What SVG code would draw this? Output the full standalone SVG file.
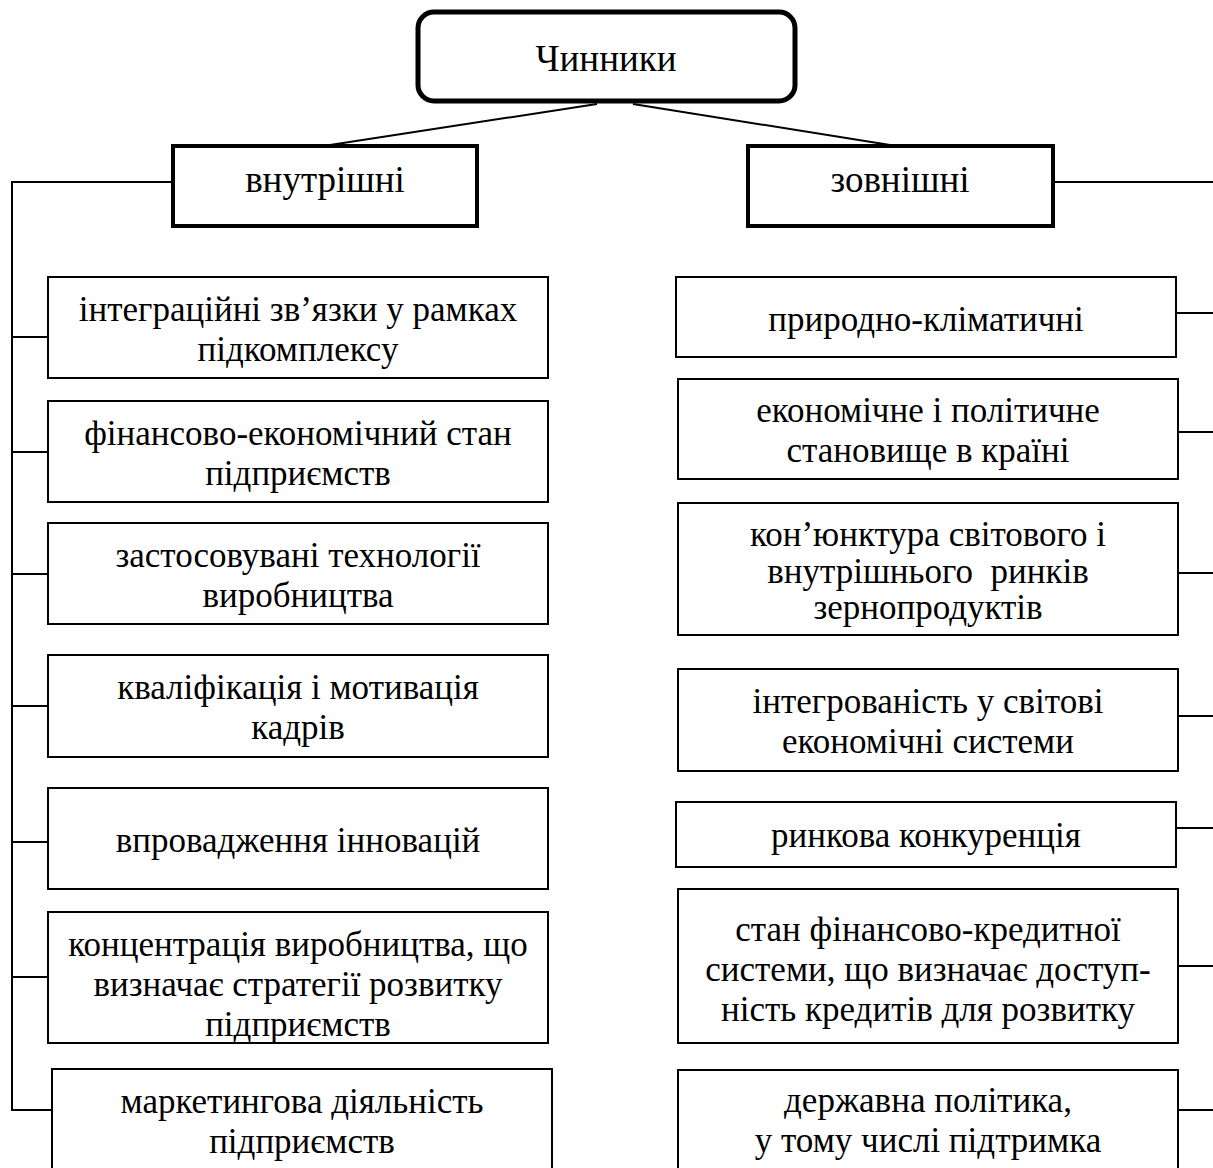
<svg xmlns="http://www.w3.org/2000/svg" width="1213" height="1168" viewBox="0 0 1213 1168">
<style>
text{font-family:"Liberation Serif","Times New Roman",serif;font-size:35px;fill:#000;text-anchor:middle}
text.t{font-size:37px}
text.p{white-space:pre}
.b{fill:#fff;stroke:#000;stroke-width:2}
.h{fill:#fff;stroke:#000;stroke-width:4}
.c{stroke:#000;stroke-width:2;fill:none}
</style>
<rect width="1213" height="1168" fill="#fff"/>
<g id="connectors">
<line class="c" x1="597" y1="104" x2="330" y2="145"/>
<line class="c" x1="633" y1="104" x2="890" y2="145"/>
<polyline class="c" points="172,182 12,182 12,1110 52,1110"/>
<line class="c" x1="12" y1="337" x2="48" y2="337"/>
<line class="c" x1="12" y1="452" x2="48" y2="452"/>
<line class="c" x1="12" y1="574" x2="48" y2="574"/>
<line class="c" x1="12" y1="706" x2="48" y2="706"/>
<line class="c" x1="12" y1="842" x2="48" y2="842"/>
<line class="c" x1="12" y1="977" x2="48" y2="977"/>
<line class="c" x1="1054" y1="182" x2="1213" y2="182"/>
<line class="c" x1="1176" y1="313" x2="1213" y2="313"/>
<line class="c" x1="1178" y1="432" x2="1213" y2="432"/>
<line class="c" x1="1178" y1="573" x2="1213" y2="573"/>
<line class="c" x1="1178" y1="716" x2="1213" y2="716"/>
<line class="c" x1="1176" y1="828" x2="1213" y2="828"/>
<line class="c" x1="1178" y1="966" x2="1213" y2="966"/>
<line class="c" x1="1178" y1="1110" x2="1213" y2="1110"/>
</g>
<g id="root"><rect x="418" y="12" width="377" height="89" rx="16" fill="#fff" stroke="#000" stroke-width="5"/><text class="t" x="606" y="71">Чинники</text></g>
<g id="internal"><rect class="h" x="173" y="146" width="304" height="80"/><text class="t" x="325" y="192">внутрішні</text></g>
<g id="external"><rect class="h" x="748" y="146" width="305" height="80"/><text class="t" x="900" y="192">зовнішні</text></g>
<g id="i1"><rect class="b" x="48" y="277" width="500" height="101"/><text x="298" y="321">інтеграційні зв’язки у рамках</text><text x="298" y="361">підкомплексу</text></g>
<g id="i2"><rect class="b" x="48" y="401" width="500" height="101"/><text x="298" y="445">фінансово-економічний стан</text><text x="298" y="485">підприємств</text></g>
<g id="i3"><rect class="b" x="48" y="523" width="500" height="101"/><text x="298" y="567">застосовувані технології</text><text x="298" y="607">виробництва</text></g>
<g id="i4"><rect class="b" x="48" y="655" width="500" height="102"/><text x="298" y="699">кваліфікація і мотивація</text><text x="298" y="739">кадрів</text></g>
<g id="i5"><rect class="b" x="48" y="788" width="500" height="101"/><text x="298" y="852">впровадження інновацій</text></g>
<g id="i6"><rect class="b" x="48" y="912" width="500" height="131"/><text x="298" y="956">концентрація виробництва, що</text><text x="298" y="996">визначає стратегії розвитку</text><text x="298" y="1036">підприємств</text></g>
<g id="i7"><rect class="b" x="52" y="1069" width="500" height="110"/><text x="302" y="1113">маркетингова діяльність</text><text x="302" y="1153">підприємств</text></g>
<g id="e1"><rect class="b" x="676" y="277" width="500" height="80"/><text x="926" y="331">природно-кліматичні</text></g>
<g id="e2"><rect class="b" x="678" y="379" width="500" height="100"/><text x="928" y="422">економічне і політичне</text><text x="928" y="462">становище в країні</text></g>
<g id="e3"><rect class="b" x="678" y="503" width="500" height="132"/><text x="928" y="546">кон’юнктура світового і</text><text class="p" x="928" y="583">внутрішнього  ринків</text><text x="928" y="619">зернопродуктів</text></g>
<g id="e4"><rect class="b" x="678" y="669" width="500" height="102"/><text x="928" y="713">інтегрованість у світові</text><text x="928" y="753">економічні системи</text></g>
<g id="e5"><rect class="b" x="676" y="802" width="500" height="65"/><text x="926" y="847">ринкова конкуренція</text></g>
<g id="e6"><rect class="b" x="678" y="889" width="500" height="154"/><text x="928" y="941">стан фінансово-кредитної</text><text x="928" y="981">системи, що визначає доступ-</text><text x="928" y="1021">ність кредитів для розвитку</text></g>
<g id="e7"><rect class="b" x="678" y="1070" width="500" height="108"/><text x="928" y="1112">державна політика,</text><text x="928" y="1152">у тому числі підтримка</text></g>
</svg>
